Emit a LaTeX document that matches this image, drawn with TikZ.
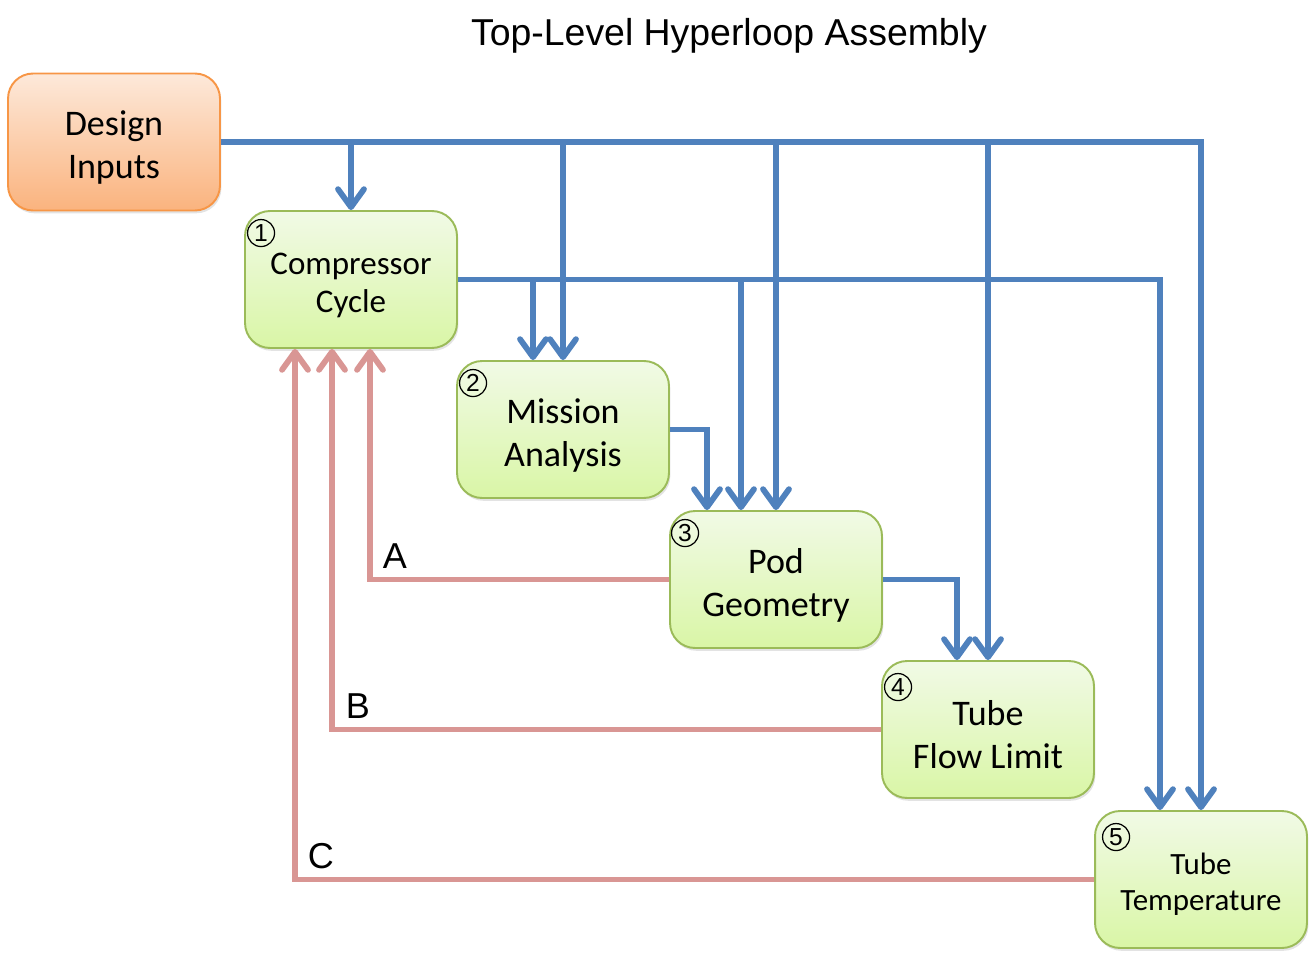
\documentclass[tikz,border=0pt]{standalone}
\usepackage{fontspec}
\setmainfont{Carlito}
\newfontfamily\titlefont{Liberation Sans}
\usetikzlibrary{arrows.meta,shadows}
\definecolor{flowblue}{HTML}{4F81BD}
\definecolor{backpink}{HTML}{D99694}
\definecolor{edgegreen}{HTML}{9BBB59}
\definecolor{topgreen}{HTML}{F1FAE6}
\definecolor{botgreen}{HTML}{D9F6A6}
\definecolor{edgeorange}{HTML}{F79646}
\definecolor{toporange}{HTML}{FDE9DA}
\definecolor{botorange}{HTML}{FAB37E}
\newcommand{\lift}{\rule{0pt}{1em}}

\begin{document}
\begin{tikzpicture}[x=0.02cm,y=-0.02cm,>={Straight Barb[length=3.6mm,width=5.2mm,round]},
  block/.style={draw=edgegreen,line width=1.1pt,rounded corners=0.5cm,
    minimum width=4.24cm,minimum height=2.74cm,align=center,
    top color=topgreen,bottom color=botgreen,
    drop shadow={opacity=0.22,shadow xshift=0.8pt,shadow yshift=-1.6pt},
    font=\fontsize{20.5}{24.5}\selectfont},
  inputbox/.style={block,draw=edgeorange,top color=toporange,bottom color=botorange},
  flow/.style={flowblue,line width=3.3pt},
  back/.style={backpink,line width=3.3pt},
  num/.style={circle,draw,line width=0.7pt,minimum size=0.54cm,inner sep=0pt,
    font=\titlefont\fontsize{14}{14}\selectfont},
  tag/.style={font=\titlefont\fontsize{20.5}{24}\selectfont}]
  \useasboundingbox (0,0) rectangle (1315,960);
  \node[font=\titlefont\fontsize{21.3}{24}\selectfont] (title) at (729,36) {Top-Level Hyperloop Assembly};
  \node[inputbox] (di) at (114,142) {\lift Design\\Inputs};
  \node[block,font=\fontsize{18.8}{21.5}\selectfont] (cc) at (351,279.5) {\lift Compressor\\Cycle};
  \node[block] (ma) at (563,429.5) {\lift Mission\\Analysis};
  \node[block] (pg) at (776,579.5) {\lift Pod\\Geometry};
  \node[block] (tf) at (988,729.5) {\lift Tube\\Flow Limit};
  \node[block,font=\fontsize{17.6}{21}\selectfont] (tt) at (1201,879.5) {\lift Tube\\Temperature};
  \node[num] (n1) at ([shift={(17,23)}]cc.north west) {1};
  \node[num] (n2) at ([shift={(17,23)}]ma.north west) {2};
  \node[num] (n3) at ([shift={(16,23)}]pg.north west) {3};
  \node[num] (n4) at ([shift={(17,27)}]tf.north west) {4};
  \node[num] (n5) at ([shift={(22,27)}]tt.north west) {5};
  \draw[back,->] (pg.west) -| ([shift={(19,0)}]cc.south);
  \draw[back,->] (tf.west) -| ([shift={(-19,0)}]cc.south);
  \draw[back,->] (tt.west) -| ([shift={(-56,0)}]cc.south);
  \node[tag] (la) at (395,556) {A};
  \node[tag] (lb) at (358,706) {B};
  \node[tag] (lc) at (321,856) {C};
  \draw[flow,->] (cc.east) -| ([shift={(-41,0)}]tt.north);
  \draw[flow,->] ([shift={(-30,0)}]ma.north |- cc.east) -- ([shift={(-30,0)}]ma.north);
  \draw[flow,->] ([shift={(-35,0)}]pg.north |- cc.east) -- ([shift={(-35,0)}]pg.north);
  \draw[flow,->] (ma.east) -| ([shift={(-69,0)}]pg.north);
  \draw[flow,->] (pg.east) -| ([shift={(-31,0)}]tf.north);
  \draw[flow,->] (di.east) -| (tt.north);
  \foreach \n in {cc,ma,pg,tf}
    \draw[flow,->] (\n.north |- di.east) -- (\n.north);
\end{tikzpicture}
\end{document}
